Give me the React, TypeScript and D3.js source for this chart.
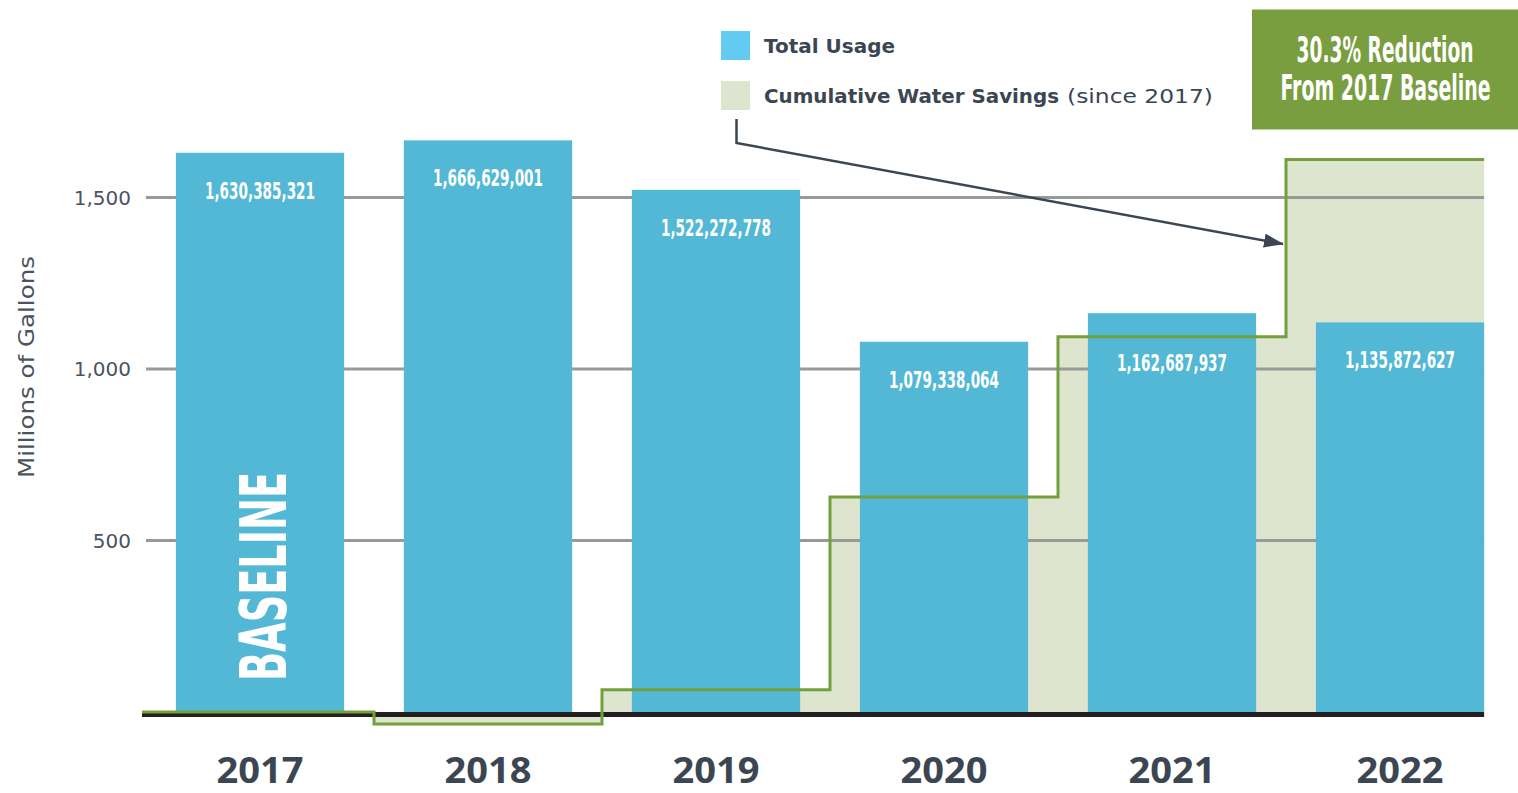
import React from 'react';
import * as d3 from 'd3';

const years = ['2017', '2018', '2019', '2020', '2021', '2022'];
const totalUsage = [1630385321, 1666629001, 1522272778, 1079338064, 1162687937, 1135872627];
// cumulative water savings since 2017, millions of gallons
const cumulativeSavings = [0, -35, 65, 627, 1094, 1611];
const yTicks = [500, 1000, 1500];
const legendItems = ['Total Usage', 'Cumulative Water Savings'];
const legendNote = '(since 2017)';
const calloutLines = ['30.3% Reduction', 'From 2017 Baseline'];
const baselineLabel = 'BASELINE';
const yTitle = 'Millions of Gallons';

const W = 1518;
const H = 793;
const BAR = '#52b8d6';
const LEGEND_BLUE = '#63cbf1';
const FILL = '#dde5cf';
const GREEN_LINE = '#739f3c';
const BOX_GREEN = '#789e40';
const TEXT = '#3b4652';
const GRID = '#999999';
const COND = "'Liberation Sans Narrow', 'DejaVu Sans Condensed', 'Roboto', sans-serif";
const WIDE = "'DejaVu Sans', 'Open Sans', sans-serif";

export default function App() {
  const x = d3.scaleBand<string>().domain(years).range([146, 1514]).paddingInner(0.262).paddingOuter(0.131);
  const y = d3.scaleLinear().domain([0, 1500]).range([712, 197.5]);
  const bw = x.bandwidth();
  const step = x.step();
  const gap = step - bw;
  const xStart = x.range()[0] - 4;
  const xEnd = (x(years[years.length - 1]) as number) + bw;

  const stepPts: [number, number][] = cumulativeSavings.map((v, i) => [
    i === 0 ? xStart : (x(years[i]) as number) - gap / 2,
    v,
  ]);
  stepPts.push([xEnd, cumulativeSavings[cumulativeSavings.length - 1]]);

  const area = d3
    .area<[number, number]>()
    .x((d) => d[0])
    .y0(y(0))
    .y1((d) => y(d[1]))
    .curve(d3.curveStepAfter);
  const line = d3
    .line<[number, number]>()
    .x((d) => d[0])
    .y((d) => y(d[1]))
    .curve(d3.curveStepAfter);

  const fmt = d3.format(',');

  return (
    <svg
      width={W}
      height={H}
      style={{ position: 'absolute', left: 0, top: 0, background: '#fff' }}
    >
      <defs>
        <marker
          id="arrowHead"
          markerUnits="userSpaceOnUse"
          markerWidth="20"
          markerHeight="14"
          refX="19"
          refY="7"
          orient="auto"
        >
          <path d="M0,0 L20,7 L0,14 Z" fill={TEXT} />
        </marker>
      </defs>

      {/* savings fill */}
      <path d={area(stepPts) || ''} fill={FILL} />

      {/* gridlines */}
      {yTicks.map((t) => (
        <g key={t}>
          <line x1={x.range()[0]} x2={xEnd} y1={y(t)} y2={y(t)} stroke={GRID} strokeWidth={3} />
          <text
            x={131}
            y={y(t)}
            dy="0.36em"
            textAnchor="end"
            fontFamily={WIDE}
            fontSize={20}
            fill="#4a5461"
          >
            {fmt(t)}
          </text>
        </g>
      ))}

      {/* y title */}
      <text
        transform={`translate(34, ${367}) rotate(-90)`}
        textAnchor="middle"
        fontFamily={WIDE}
        fontSize={21}
        fill="#4a5461"
        textLength={222}
        lengthAdjust="spacingAndGlyphs"
      >
        {yTitle}
      </text>

      {/* bars */}
      {years.map((yr, i) => {
        const v = totalUsage[i] / 1e6;
        const top = y(v);
        const lineY = y(cumulativeSavings[i]);
        let base = top + 46;
        if (lineY > top && lineY < top + 46) base = lineY + 34;
        return (
          <g key={yr}>
            <rect x={x(yr)} y={top} width={bw} height={y(0) - top} fill={BAR} />
            <text
              x={(x(yr) as number) + bw / 2}
              y={base}
              textAnchor="middle"
              fontFamily={COND}
              fontWeight={700}
              fontSize={23}
              fill="#fff"
              textLength={110}
              lengthAdjust="spacingAndGlyphs"
            >
              {fmt(totalUsage[i])}
            </text>
            <text
              x={(x(yr) as number) + bw / 2}
              y={783}
              textAnchor="middle"
              fontFamily="'Open Sans', sans-serif"
              fontWeight={700}
              fontSize={36}
              fill={TEXT}
              textLength={87}
              lengthAdjust="spacingAndGlyphs"
            >
              {yr}
            </text>
          </g>
        );
      })}

      {/* BASELINE label */}
      <text
        transform={`translate(${(x(years[0]) as number) + bw / 2 + 26}, 681) rotate(-90)`}
        fontFamily={COND}
        fontWeight={700}
        fontSize={64}
        fill="#fff"
        textLength={209}
        lengthAdjust="spacingAndGlyphs"
      >
        {baselineLabel}
      </text>

      {/* black baseline */}
      <line x1={xStart} x2={xEnd} y1={y(0) + 2.5} y2={y(0) + 2.5} stroke="#231f20" strokeWidth={5} />

      {/* savings step line */}
      <path d={line(stepPts) || ''} fill="none" stroke={GREEN_LINE} strokeWidth={3} />

      {/* legend */}
      <rect x={721} y={31} width={29} height={29} fill={LEGEND_BLUE} />
      <text x={764} y={53} fontFamily={WIDE} fontWeight={700} fontSize={20} fill={TEXT} textLength={131} lengthAdjust="spacingAndGlyphs">
        {legendItems[0]}
      </text>
      <rect x={721} y={81} width={29} height={29} fill={FILL} />
      <text x={764} y={103} fontFamily={WIDE} fontWeight={700} fontSize={20} fill={TEXT} textLength={295} lengthAdjust="spacingAndGlyphs">
        {legendItems[1]}
      </text>
      <text x={1067} y={103} fontFamily={WIDE} fontSize={20} fill={TEXT} textLength={146} lengthAdjust="spacingAndGlyphs">
        {legendNote}
      </text>

      {/* arrow */}
      <path
        d="M736.5,119 V143 L1283,244"
        fill="none"
        stroke={TEXT}
        strokeWidth={2.5}
        markerEnd="url(#arrowHead)"
      />

      {/* callout box */}
      <rect x={1252} y={9.5} width={266} height={120} fill={BOX_GREEN} />
      <g transform="translate(1385, 62) scale(1, 1.6)">
        <text x={0} y={0} textAnchor="middle" fontFamily={COND} fontWeight={700} fontSize={22} fill="#fff" textLength={177} lengthAdjust="spacingAndGlyphs">
          {calloutLines[0]}
        </text>
      </g>
      <g transform="translate(1385.5, 100) scale(1, 1.6)">
        <text x={0} y={0} textAnchor="middle" fontFamily={COND} fontWeight={700} fontSize={22} fill="#fff" textLength={210} lengthAdjust="spacingAndGlyphs">
          {calloutLines[1]}
        </text>
      </g>
    </svg>
  );
}
